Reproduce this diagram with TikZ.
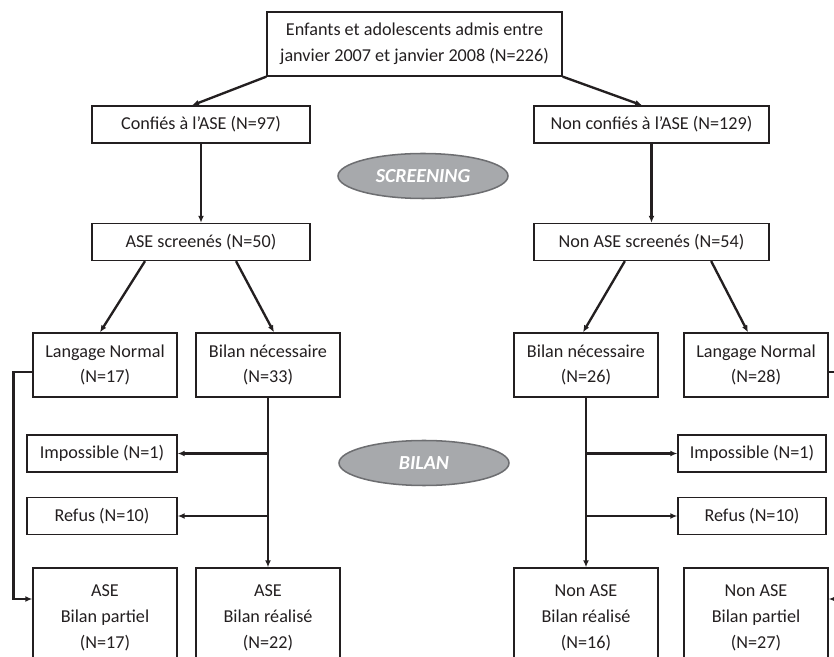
\documentclass[tikz,border=0pt]{standalone}
\usepackage{fontspec}
\setmainfont{Carlito}
\usetikzlibrary{arrows.meta,shapes.geometric}
\definecolor{ink}{HTML}{231F20}
\definecolor{ovalfill}{HTML}{A7A9AC}
\definecolor{ovalline}{HTML}{6D6E71}
\begin{document}
\begin{tikzpicture}[x=0.03cm,y=-0.03cm,
    box/.style={draw=ink,line width=1.1pt,inner sep=0pt,align=center,text=ink,
      font=\fontsize{15.5}{22}\selectfont},
    wide/.style={box,minimum width=#1,minimum height=1.11cm},
    pair/.style={box,minimum width=4.32cm,minimum height=1.92cm},
    tall/.style={box,minimum width=4.32cm,minimum height=3cm},
    phase/.style={ellipse,draw=ovalline,line width=1.3pt,fill=ovalfill,text=white,
      minimum width=5.1cm,minimum height=1.35cm,inner sep=0pt,
      font=\fontsize{17}{20}\selectfont\bfseries\itshape},
    arr/.style={draw=ink,line width=2pt,-{Latex[length=6pt,width=5pt]}}]
    \useasboundingbox (0,0) rectangle (834,657);
    \clip (0,0) rectangle (834,657);

    \node[box,minimum width=8.85cm,minimum height=1.92cm] (top) at (414.5,44)
      {Enfants et adolescents admis entre\\janvier 2007 et janvier 2008 (N=226)};
    \node[wide=6.54cm] (conf) at (201,124.5) {Confiés à l’ASE (N=97)};
    \node[wide=7.05cm] (nconf) at (651.5,124.5) {Non confiés à l’ASE (N=129)};
    \node[phase] (screen) at (423,176) {SCREENING};
    \node[wide=6.54cm] (scr1) at (201,242) {ASE screenés (N=50)};
    \node[wide=7.05cm] (scr2) at (651.5,242) {Non ASE screenés (N=54)};

    \node[pair] (ln1) at (105,365) {Langage Normal\\(N=17)};
    \node[pair] (bn1) at (268,365) {Bilan nécessaire\\(N=33)};
    \node[pair] (bn2) at (586,365) {Bilan nécessaire\\(N=26)};
    \node[pair] (ln2) at (756,365) {Langage Normal\\(N=28)};

    \node[phase] (bilan) at (424,463) {BILAN};
    \node[wide=4.5cm] (imp1) at (102,453.5) {Impossible (N=1)};
    \node[wide=4.5cm] (ref1) at (102,516) {Refus (N=10)};
    \node[wide=4.44cm] (imp2) at (752,453.5) {Impossible (N=1)};
    \node[wide=4.44cm] (ref2) at (752,516) {Refus (N=10)};

    \node[tall] (part1) at (105,618) {ASE\\Bilan partiel\\(N=17)};
    \node[tall] (real1) at (268,618) {ASE\\Bilan réalisé\\(N=22)};
    \node[tall] (real2) at (586,618) {Non ASE\\Bilan réalisé\\(N=16)};
    \node[tall] (part2) at (756,618) {Non ASE\\Bilan partiel\\(N=27)};

    \draw[arr] (top.south west) -- ([xshift=-0.27cm]conf.north);
    \draw[arr] (top.south east) -- ([xshift=-0.28cm]nconf.north);
    \draw[arr] (conf) -- (scr1);
    \draw[arr] (nconf) -- (scr2);

    \draw[arr] ([xshift=-1.68cm]scr1.south) -- ([xshift=-0.15cm]ln1.north);
    \draw[arr] ([xshift=1.05cm]scr1.south) -- ([xshift=0.18cm]bn1.north);
    \draw[arr] ([xshift=-0.8cm]scr2.south) -- ([xshift=-0.09cm]bn2.north);
    \draw[arr] ([xshift=1.79cm]scr2.south) -- ([xshift=-0.24cm]ln2.north);

    \draw[arr] (bn1) -- (real1);
    \draw[arr] (bn1.south |- imp1.east) -- (imp1.east);
    \draw[arr] (bn1.south |- ref1.east) -- (ref1.east);
    \draw[arr] (bn2) -- (real2);
    \draw[arr] (bn2.south |- imp2.west) -- (imp2.west);
    \draw[arr] (bn2.south |- ref2.west) -- (ref2.west);

    \draw[arr] ([yshift=-0.21cm]ln1.west) -- ++(-19,0) |- ([yshift=0.57cm]part1.west);
    \draw[arr] ([yshift=-0.21cm]ln2.east) -- ++(18,0) |- ([yshift=0.57cm]part2.east);
\end{tikzpicture}
\end{document}
